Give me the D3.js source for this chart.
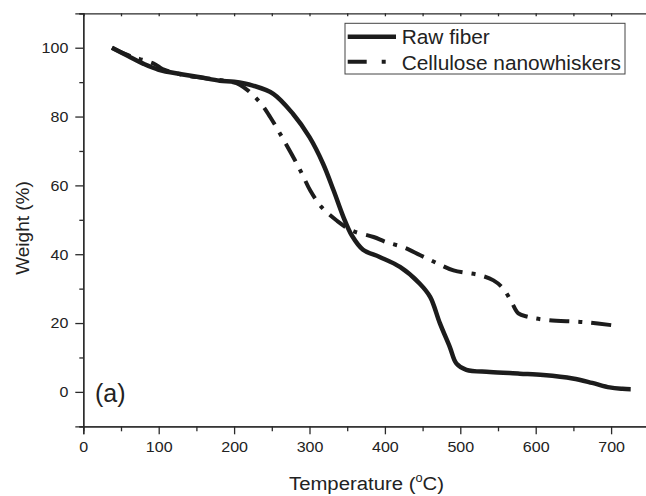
<!DOCTYPE html>
<html>
<head>
<meta charset="utf-8">
<script src="https://cdn.jsdelivr.net/npm/d3@7"></script>
<style>
  html, body { margin: 0; padding: 0; background: #fff; }
  svg { display: block; font-family: "Liberation Sans", Arial, sans-serif; }
</style>
</head>
<body>
<svg id="chart" width="646" height="496"></svg>
<script>
// ---- data ----
const rawTemp = [38, 60, 80, 100, 130, 155, 181, 200, 225, 252, 278, 300, 318, 332, 345, 356, 371, 393, 420, 446, 460, 473, 486, 495, 508, 539, 579, 610, 649, 675, 698, 715, 726];
const rawWeight = [100, 97.5, 95.3, 93.6, 92.3, 91.4, 90.4, 90.1, 89, 86.6, 80.8, 74, 66.3, 58.5, 50.8, 45.5, 41.3, 39.2, 36.3, 31.5, 27.6, 19.9, 13.1, 8.2, 6.4, 5.8, 5.3, 4.9, 3.9, 2.6, 1.3, 0.9, 0.8];

const cnwTemp = [38, 55, 70, 80, 95, 105, 130, 160, 190, 208, 234, 248, 261, 276, 290, 301, 316, 336, 356, 385, 402, 425, 447, 470, 491, 526, 544, 557, 568, 577, 590, 618, 662, 711];
const cnwWeight = [100, 98.2, 97, 96.4, 95.2, 93.8, 92.2, 91.2, 90.3, 89.2, 84.2, 79.8, 75, 69.2, 63.4, 58.5, 53.7, 49.8, 46.9, 45, 43.5, 42, 39.7, 37.3, 35.3, 33.9, 32.4, 30, 26.1, 22.8, 21.8, 20.8, 20.3, 19.1];

const seriesNames = ["Raw fiber", "Cellulose nanowhiskers"];
const xMajorTicks = [0, 100, 200, 300, 400, 500, 600, 700];
const xMinorTicks = [50, 150, 250, 350, 450, 550, 650, 750];
const yMajorTicks = [0, 20, 40, 60, 80, 100];
const yMinorTicks = [-10, 10, 30, 50, 70, 90, 110];
const xTitle = "Temperature (";
const yTitle = "Weight (%)";
const panelLabel = "(a)";

// ---- layout ----
const svg = d3.select("#chart");
const mLeft = 83.3, mTop = 13.3, mBottom = 426.3;
const stretch = 1.07; // reference text is slightly wider than tall
const x = d3.scaleLinear().domain([0, 750]).range([mLeft, mLeft + 7.5 * 75.4]);
const y = d3.scaleLinear().domain([-10, 110]).range([mBottom, mTop]);
const axisColor = "#2a2a2a";
const lineColor = "#1c1c1c";

function styleAxis(g) {
  g.selectAll("path.domain").attr("stroke", axisColor).attr("stroke-width", 1.3);
  g.selectAll(".tick line").attr("stroke", axisColor).attr("stroke-width", 1.3);
  g.selectAll(".tick text").attr("fill", "#222").attr("font-size", 15)
    .attr("font-family", "Liberation Sans, Arial, sans-serif")
    .attr("transform", `scale(${stretch},1)`);
}

// bottom axis
svg.append("g").attr("transform", `translate(0,${mBottom})`)
  .call(d3.axisBottom(x).tickValues(xMinorTicks).tickSize(5).tickFormat(""))
  .call(styleAxis);
svg.append("g").attr("transform", `translate(0,${mBottom})`)
  .call(d3.axisBottom(x).tickValues(xMajorTicks).tickSize(8).tickPadding(7).tickFormat(d3.format("d")))
  .call(styleAxis);

// top axis (ticks inward)
svg.append("g").attr("transform", `translate(0,${mTop})`)
  .call(d3.axisTop(x).tickValues(xMinorTicks.concat(xMajorTicks)).tickSize(-3).tickFormat(""))
  .call(styleAxis);

// left axis
svg.append("g").attr("transform", `translate(${mLeft},0)`)
  .call(d3.axisLeft(y).tickValues(yMinorTicks).tickSize(4).tickFormat(""))
  .call(styleAxis);
svg.append("g").attr("transform", `translate(${mLeft},0)`)
  .call(d3.axisLeft(y).tickValues(yMajorTicks).tickSize(8).tickPadding(6).tickFormat(d3.format("d")))
  .call(styleAxis);

// ---- curves ----
const line = d3.line().x(d => x(d[0])).y(d => y(d[1])).curve(d3.curveCatmullRom.alpha(0.5));
const rawData = rawTemp.map((t, i) => [t, rawWeight[i]]);
const cnwData = cnwTemp.map((t, i) => [t, cnwWeight[i]]);

svg.append("path").datum(cnwData).attr("d", line)
  .attr("fill", "none").attr("stroke", lineColor).attr("stroke-width", 4)
  .attr("stroke-dasharray", "20,9,4,9");
svg.append("path").datum(rawData).attr("d", line)
  .attr("fill", "none").attr("stroke", lineColor).attr("stroke-width", 4.5)
  .attr("stroke-linejoin", "round");

// ---- legend ----
const lg = svg.append("g");
lg.append("rect").attr("x", 345).attr("y", 23.3).attr("width", 280).attr("height", 50.7)
  .attr("fill", "#fff").attr("stroke", "#444").attr("stroke-width", 1);
lg.append("line").attr("x1", 347.7).attr("x2", 396).attr("y1", 36.7).attr("y2", 36.7)
  .attr("stroke", lineColor).attr("stroke-width", 4.5);
lg.append("line").attr("x1", 347.7).attr("x2", 396).attr("y1", 61.7).attr("y2", 61.7)
  .attr("stroke", lineColor).attr("stroke-width", 4).attr("stroke-dasharray", "19,15,4,100");
lg.append("text").attr("transform", `translate(401.7,43.5) scale(${stretch},1)`)
  .attr("font-size", 19.5).attr("fill", "#222").text(seriesNames[0]);
lg.append("text").attr("transform", `translate(401.7,69.5) scale(${stretch},1)`)
  .attr("font-size", 19.5).attr("fill", "#222").text(seriesNames[1]);

// ---- titles ----
const xt = svg.append("text").attr("transform", `translate(366.5,490) scale(${stretch},1)`)
  .attr("text-anchor", "middle").attr("font-size", 19).attr("fill", "#222");
xt.append("tspan").text(xTitle);
xt.append("tspan").attr("font-size", 12).attr("dy", -8).text("o");
xt.append("tspan").attr("dy", 8).text("C)");

svg.append("text").attr("transform", "translate(29,228) rotate(-90)").attr("text-anchor", "middle")
  .attr("font-size", 19).attr("fill", "#222").text(yTitle);

svg.append("text").attr("x", 95).attr("y", 401.5).attr("font-size", 25).attr("fill", "#222").text(panelLabel);
</script>
</body>
</html>
